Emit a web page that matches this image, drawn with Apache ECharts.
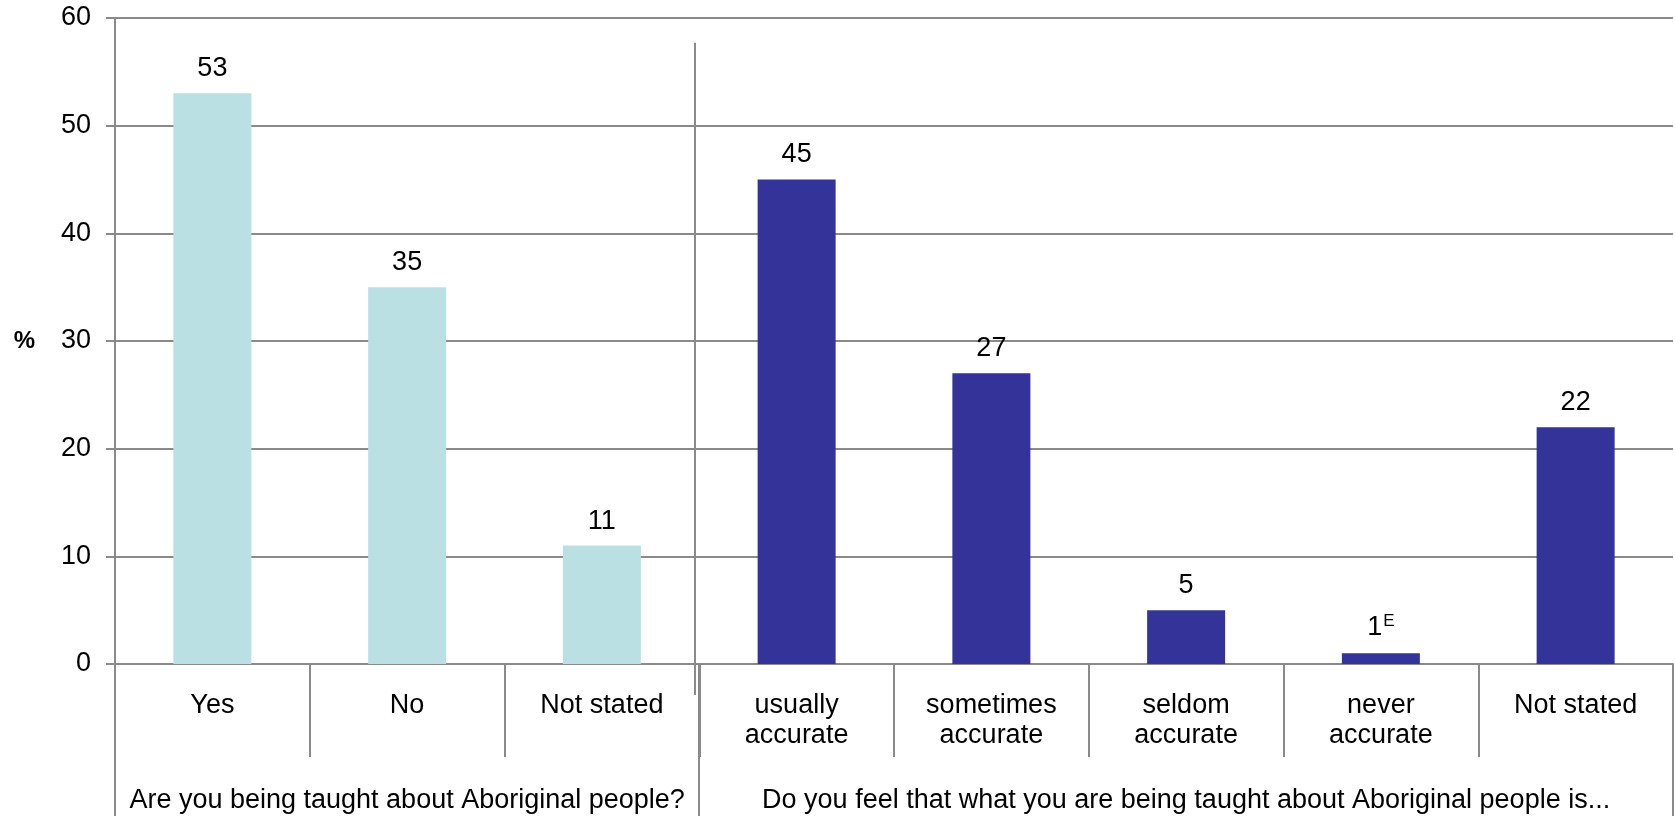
<!DOCTYPE html>
<html><head><meta charset="utf-8">
<script src="https://cdn.jsdelivr.net/npm/echarts@6/dist/echarts.min.js"></script>
<style>html,body{margin:0;padding:0;background:#fff}#c{width:1675px;height:816px}</style>
</head><body><div id="c"></div>
<script>
const categories = ['Yes', 'No', 'Not stated', 'usually\naccurate', 'sometimes\naccurate', 'seldom\naccurate', 'never\naccurate', 'Not stated'];
const taughtValues = [53, 35, 11];
const accuracyValues = [45, 27, 5, 1, 22];
const valueLabels = ['53', '35', '11', '45', '27', '5', '1{sup|E}', '22'];
const groupLabels = ['Are you being taught about Aboriginal people?', 'Do you feel that what you are being taught about Aboriginal people is...'];
const groupSizes = [3, 5];
const yTicks = { min: 0, max: 60, interval: 10 };

const FONT = '"Liberation Sans", Arial, sans-serif';
const FS = 27;
const s1 = categories.map((c, i) => i < taughtValues.length ? taughtValues[i] : '-');
const s2 = categories.map((c, i) => i >= taughtValues.length ? accuracyValues[i - taughtValues.length] : '-');
const groupAxisData = categories.map(() => '');
let start = 0;
groupSizes.forEach((sz, g) => { groupAxisData[start + Math.floor(sz / 2)] = groupLabels[g]; start += sz; });

const chart = echarts.init(document.getElementById('c'));
const labelCfg = {
  show: true, position: 'top', distance: 11, color: '#000', fontSize: FS, fontFamily: FONT,
  formatter: p => valueLabels[p.dataIndex],
  rich: { sup: { fontSize: 17, verticalAlign: 'top', padding: [0, 0, 12, 1], color: '#000', fontFamily: FONT } }
};
chart.setOption({
  animation: false,
  grid: { left: 115, right: 2, top: 18, bottom: 152 },
  xAxis: [{
    type: 'category', data: categories, position: 'bottom',
    axisLine: { lineStyle: { color: '#8a8a8a', width: 2 } },
    axisTick: { show: true, interval: 0, length: 93, lineStyle: { color: '#8a8a8a', width: 2 } },
    axisLabel: { interval: 0, margin: 27, color: '#000', fontSize: FS, lineHeight: 30, fontFamily: FONT }
  }, {
    type: 'category', data: groupAxisData, position: 'bottom', offset: 0,
    axisLine: { show: false }, axisTick: { show: false },
    axisLabel: { interval: 0, margin: 123, color: '#000', fontSize: FS, fontFamily: FONT }
  }],
  yAxis: {
    type: 'value', min: yTicks.min, max: yTicks.max, interval: yTicks.interval,
    name: '%', nameLocation: 'middle', nameGap: 80, nameRotate: 0,
    nameTextStyle: { fontWeight: 'bold', fontSize: 24, color: '#000', fontFamily: FONT },
    axisLine: { show: true, lineStyle: { color: '#8a8a8a', width: 2 } },
    axisTick: { show: true, length: 9, lineStyle: { color: '#8a8a8a', width: 2 } },
    axisLabel: { margin: 24, color: '#000', fontSize: FS, fontFamily: FONT },
    splitLine: { lineStyle: { color: '#8a8a8a', width: 2 } }
  },
  series: [
    { type: 'bar', stack: 'a', data: s1, barWidth: 78, itemStyle: { color: '#bae0e3' }, label: labelCfg },
    { type: 'bar', stack: 'a', data: s2, barWidth: 78, itemStyle: { color: '#333399' }, label: labelCfg }
  ]
});

const c0 = chart.convertToPixel({ xAxisIndex: 0 }, 0);
const c1 = chart.convertToPixel({ xAxisIndex: 0 }, 1);
const band = c1 - c0;
const y0 = chart.convertToPixel({ yAxisIndex: 0 }, 0);
const dividerTopValue = 57.7;
const yTop = chart.convertToPixel({ yAxisIndex: 0 }, dividerTopValue);
const H = 816;
const lineStyle = { stroke: '#8a8a8a', lineWidth: 2 };
const graphics = [];
let acc = 0;
const bounds = [0];
groupSizes.forEach(sz => { acc += sz; bounds.push(acc); });
bounds.forEach(b => {
  const x = Math.round(c0 - band / 2 + b * band);
  graphics.push({ type: 'line', shape: { x1: x, y1: y0, x2: x, y2: H }, style: lineStyle, silent: true });
});
const xd = Math.round(c0 - band / 2 + groupSizes[0] * band) - 4;
graphics.push({ type: 'line', shape: { x1: xd, y1: yTop, x2: xd, y2: y0 + 31 }, style: lineStyle, silent: true });
chart.setOption({ graphic: graphics });
</script></body></html>
